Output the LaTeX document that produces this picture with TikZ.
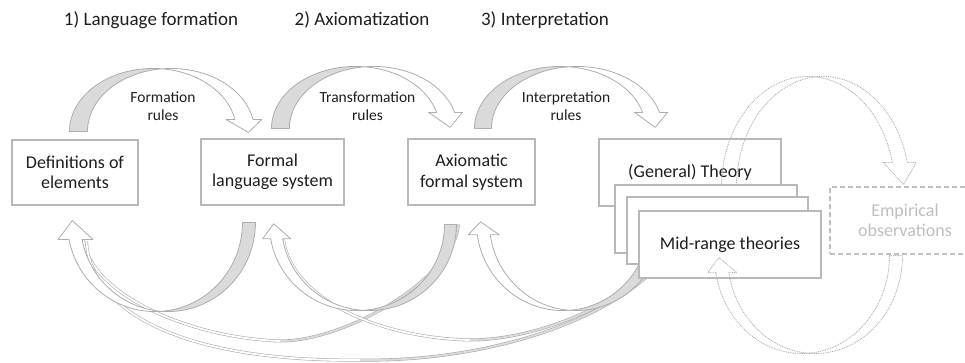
\documentclass[tikz,border=0pt]{standalone}
\usepackage{fontspec}
\setmainfont{Carlito}
\usetikzlibrary{calc}

\definecolor{txt}{HTML}{1E1E1E}
\definecolor{boxline}{HTML}{B8B8B8}
\definecolor{ribline}{HTML}{ADADAD}
\definecolor{ribfill}{HTML}{DADADA}
\definecolor{faint}{HTML}{BFBFBF}
\definecolor{dotline}{HTML}{B0B0B0}

\tikzset{
  box/.style={draw=boxline, fill=white, line width=1.1pt, align=center,
    inner sep=0pt, text=txt, font=\fontsize{18}{20.5}\selectfont},
  title/.style={text=txt, font=\fontsize{19}{22}\selectfont, inner sep=0pt},
  rulelabel/.style={text=txt, font=\fontsize{15.5}{18.5}\selectfont,
    align=center, inner sep=0pt},
  ribback/.style={fill=ribfill, draw=ribline, line width=0.8pt, line join=round},
  ribfront/.style={fill=white, draw=ribline, line width=0.8pt, line join=round},
  dotrib/.style={
    ribback/.style={draw=dotline, dash pattern=on 0.9pt off 0.9pt, line width=0.9pt},
    ribfront/.style={draw=dotline, dash pattern=on 0.9pt off 0.9pt, line width=0.9pt}},
  longback/.style={draw=ribline, double=ribfill, double distance=1.8pt, line width=0.6pt},
  longfront/.style={draw=ribline, double=white, double distance=1.8pt, line width=0.6pt},
}

% Curved block arrow built from two equal ellipses set side by side:
% #1 centre, #2 rotation, #3 semi-axis a, #4 semi-axis b, #5 ribbon width,
% #6 start angle, #7 end angle, #8 head overhang, #9 head length
\newcommand\ribbon[9]{%
  \pgfmathsetmacro\rbh{#5/2}%
  \pgfmathsetmacro\rbphi{acos(#5/(2*#3))}%
  \pgfmathsetmacro\rbpsi{180-\rbphi}%
  \pgfmathsetmacro\rbyc{#4*sin(\rbphi)}%
  \pgfmathsetmacro\rbxsa{-\rbh+#3*cos(#6)}%
  \pgfmathsetmacro\rbys{#4*sin(#6)}%
  \pgfmathsetmacro\rbxea{-\rbh+#3*cos(#7)}%
  \pgfmathsetmacro\rbxeb{\rbh+#3*cos(#7)}%
  \pgfmathsetmacro\rbye{#4*sin(#7)}%
  \pgfmathsetmacro\rbla{\rbxea-#8}%
  \pgfmathsetmacro\rblb{\rbxeb+#8}%
  \pgfmathsetmacro\rbtx{#3*cos(#7)+#5/4}%
  \pgfmathsetmacro\rbty{\rbye-#9}%
  \begin{scope}[shift={(#1)}, rotate=#2]
    \path[ribback] (\rbxsa pt,\rbys pt)
      arc[start angle=#6, end angle=\rbphi, x radius=#3pt, y radius=#4pt]
      arc[start angle=\rbpsi, end angle=#6, x radius=#3pt, y radius=#4pt] -- cycle;
    \path[ribfront] (0pt,\rbyc pt)
      arc[start angle=\rbpsi, end angle=#7, x radius=#3pt, y radius=#4pt]
      -- (\rblb pt,\rbye pt) -- (\rbtx pt,\rbty pt) -- (\rbla pt,\rbye pt)
      -- (\rbxea pt,\rbye pt)
      arc[start angle=#7, end angle=\rbphi, x radius=#3pt, y radius=#4pt] -- cycle;
  \end{scope}}

\begin{document}
\begin{tikzpicture}[x=1pt, y=-1pt]
\useasboundingbox (0,0) rectangle (965,362);
\clip (0,0) rectangle (965,362);

% step titles
\node[title] (t1) at (151,20) {1) Language formation};
\node[title] (t2) at (362,20) {2) Axiomatization};
\node[title] (t3) at (545,20) {3) Interpretation};

% main boxes
\node[box, minimum width=126pt, minimum height=65pt] (def) at (75,172.5) {Definitions of\\elements};
\node[box, minimum width=143pt, minimum height=66pt] (fls) at (272.5,172) {Formal\\language system};
\node[box, minimum width=127pt, minimum height=66pt] (afs) at (471.5,172) {Axiomatic\\formal system};
\node[box, minimum width=182pt, minimum height=67pt] (thA) at (690,172.5) {(General) Theory};

% anchor points of the curved arrows
\coordinate (c1) at ($(def.north west)+(150.5,-8)$);
\coordinate (c2) at ($(fls.north west)+(164,-10)$);
\coordinate (c3) at ($(afs.north west)+(161,-10)$);
\coordinate (c4) at ($(def.south west)+(150,17)$);
\coordinate (c5) at ($(fls.south west)+(162.5,19)$);
\coordinate (c6) at ($(afs.south west)+(162,17)$);
\coordinate (c7) at ($(thA.north west)+(217,49)$);

\coordinate (r7s) at ($(afs.south west)+(51,19)$);
\coordinate (r7m) at (280,341);
\coordinate (r7e) at ($(def.south west)+(72,35)$);
\coordinate (r8s) at ($(thA.south west)+(51,62)$);
\coordinate (r8m) at (470,340);
\coordinate (r8e) at ($(fls.south west)+(83,34)$);
\coordinate (r9s) at ($(thA.south west)+(53,66)$);
\coordinate (r9m) at (360,360);
\coordinate (r9e) at ($(def.south west)+(75,36)$);

% long feedback arrows
\draw[longback] (r7s) .. controls (455,275) and (350,341) .. (r7m);
\draw[longfront] (r7m) .. controls (190,338) and (92,295) .. (r7e);
\draw[longback] (r8s) .. controls (610,310) and (530,340) .. (r8m);
\draw[longfront] (r8m) .. controls (380,338) and (292,300) .. (r8e);
\draw[longback] (r9s) .. controls (590,330) and (470,362) .. (r9m);
\draw[longfront] (r9m) .. controls (200,362) and (92,320) .. (r9e);

% short feedback arrows
\ribbon{c4}{180}{87.5}{89}{13}{180}{11}{11}{19}
\ribbon{c5}{180}{87.5}{86}{12}{180}{9.5}{8}{15}
\ribbon{c6}{180}{86.5}{88}{13}{180}{8}{9}{13}

% forward arrows
\ribbon{c1}{0}{83.5}{63}{18}{180}{11}{9}{13}
\ribbon{c2}{0}{84}{62}{18}{180}{15}{8}{15}
\ribbon{c3}{0}{85.5}{62}{17}{180}{15}{8}{15}

% rule labels
\node[rulelabel] (l1) at (163,106) {Formation\\rules};
\node[rulelabel] (l2) at (367.5,106) {Transformation\\rules};
\node[rulelabel] (l3) at (566,106) {Interpretation\\rules};

% theory to observation
\begin{scope}[dotrib]
  \ribbon{c7}{0}{86.5}{111}{15}{180}{13}{9}{22}
\end{scope}

% stack of mid-range theories
\node[box, minimum width=182pt, minimum height=68pt] (thB) at (706,219) {};
\node[box, minimum width=181pt, minimum height=67pt] (thC) at (717.5,230.5) {};
\node[box, minimum width=182pt, minimum height=67pt] (thD) at (730,244.5) {Mid-range theories};

% empirical observations
\node[box, draw=faint, dash pattern=on 5pt off 3pt, text=faint,
      minimum width=150pt, minimum height=67pt] (emp) at (905,220.5) {Empirical\\observations};
\coordinate (c8) at ($(emp.south west)+(-21,1)$);

% observation back to theory
\begin{scope}[dotrib]
  \ribbon{c8}{180}{87.5}{98}{13}{180}{10}{8}{15}
\end{scope}
\end{tikzpicture}
\end{document}
